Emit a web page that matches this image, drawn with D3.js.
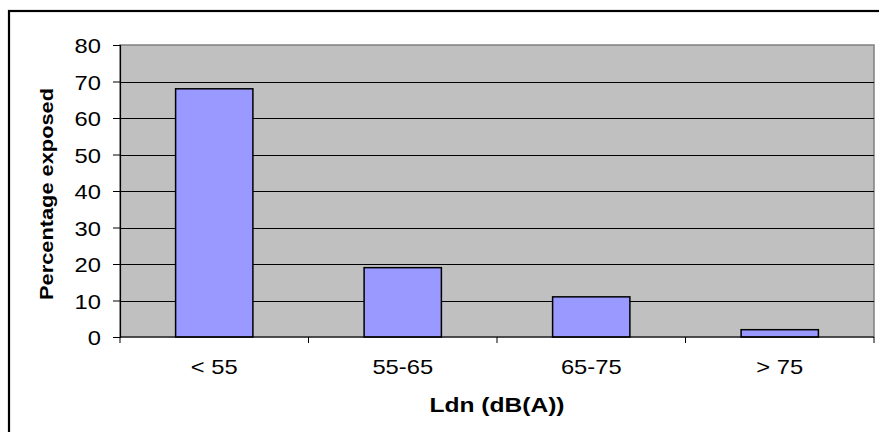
<!DOCTYPE html>
<html><head><meta charset="utf-8">
<script src="https://cdn.jsdelivr.net/npm/d3@7"></script>
<style>html,body{margin:0;padding:0;background:#fff;overflow:hidden}svg{display:block}text{font-family:"Liberation Sans",Arial,sans-serif;fill:#000}</style>
</head><body>
<script>
const categories = ["< 55", "55-65", "65-75", "> 75"];
const values = [68, 19, 11, 2];
const yTicks = [0, 10, 20, 30, 40, 50, 60, 70, 80];
const xTitle = "Ldn (dB(A))";
const yTitle = "Percentage exposed";

const W = 879, H = 432;
const plot = {left: 120, top: 45, right: 874, bottom: 337};
const svg = d3.select("body").append("svg").attr("width", W).attr("height", H);

// outer chart border
svg.append("rect").attr("x", 9).attr("y", 11).attr("width", 900).attr("height", 500)
  .attr("fill", "none").attr("stroke", "#000").attr("stroke-width", 2.2);

const x = d3.scaleBand().domain(categories).range([plot.left, plot.right]).padding(0);
const y = d3.scaleLinear().domain([0, 80]).range([plot.bottom, plot.top]);

// plot background
svg.append("rect").attr("x", plot.left).attr("y", plot.top)
  .attr("width", plot.right - plot.left).attr("height", plot.bottom - plot.top)
  .attr("fill", "#c0c0c0").attr("stroke", "#808080").attr("stroke-width", 1.5);

// gridlines
svg.append("g").selectAll("line").data(yTicks.filter(d => d > 0 && d < 80)).join("line")
  .attr("x1", plot.left).attr("x2", plot.right)
  .attr("y1", d => Math.round(y(d)) + 0.5).attr("y2", d => Math.round(y(d)) + 0.5)
  .attr("stroke", "#000").attr("stroke-width", 1);

// bars
const barFrac = 0.41;
svg.append("g").selectAll("rect").data(values).join("rect")
  .attr("x", (d, i) => x(categories[i]) + x.bandwidth() * (1 - barFrac) / 2)
  .attr("width", x.bandwidth() * barFrac)
  .attr("y", d => y(d)).attr("height", d => y(0) - y(d))
  .attr("fill", "#9999ff").attr("stroke", "#000").attr("stroke-width", 1.5);

// y axis
const yAxis = d3.axisLeft(y).tickValues(yTicks).tickSize(7).tickPadding(12);
const gy = svg.append("g").attr("transform", `translate(${plot.left},0)`).call(yAxis);
gy.select(".domain").attr("stroke", "#000").attr("stroke-width", 1.2);
gy.selectAll(".tick line").attr("stroke", "#000");
gy.selectAll(".tick text").attr("font-size", 21).attr("font-family", "Liberation Sans, Arial, sans-serif")
  .attr("fill", "#000").attr("dy", "0.36em").attr("x", null)
  .attr("transform", "translate(-19,0) scale(1.13,1)");

// x axis: ticks at category boundaries, labels centered
const xAxisG = svg.append("g").attr("transform", `translate(0,${plot.bottom})`);
xAxisG.append("line").attr("x1", plot.left).attr("x2", plot.right).attr("y1", 0).attr("y2", 0)
  .attr("stroke", "#000").attr("stroke-width", 1.2);
const bounds = categories.map(c => x(c)).concat([x.range()[1]]);
xAxisG.selectAll("line.tk").data(bounds).join("line").attr("class", "tk")
  .attr("x1", d => d).attr("x2", d => d).attr("y1", 0).attr("y2", 6)
  .attr("stroke", "#000");
xAxisG.selectAll("text").data(categories).join("text")
  .attr("transform", d => `translate(${x(d) + x.bandwidth() / 2},37) scale(1.13,1)`)
  .attr("text-anchor", "middle").attr("font-size", 21).text(d => d);

// axis titles
svg.append("text").attr("x", (plot.left + plot.right) / 2).attr("y", 412)
  .attr("text-anchor", "middle").attr("font-size", 20).attr("font-weight", "bold")
  .attr("textLength", 135).attr("lengthAdjust", "spacingAndGlyphs").text(xTitle);
svg.append("text").attr("transform", `translate(53,194) rotate(-90)`)
  .attr("text-anchor", "middle").attr("font-size", 18).attr("font-weight", "bold")
  .attr("textLength", 212).attr("lengthAdjust", "spacingAndGlyphs").text(yTitle);
</script>
</body></html>
